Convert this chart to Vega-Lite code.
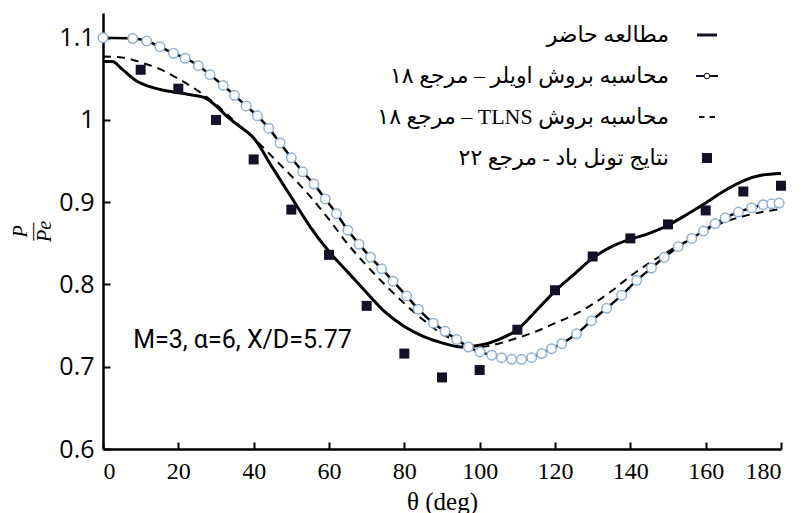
{
  "$schema": "https://vega.github.io/schema/vega-lite/v6.json",
  "width": 678,
  "height": 436,
  "autosize": {"type": "none"},
  "padding": {"left": 103, "top": 13, "right": 24, "bottom": 64},
  "background": "white",
  "config": {
    "view": {"stroke": null},
    "axis": {"grid": false, "domainColor": "black", "tickColor": "black", "domainWidth": 2.5, "tickWidth": 2, "labelColor": "black", "titleColor": "black"}
  },
  "data": {"values": [
    {"series": "مطالعه حاضر", "theta": 0, "p": 1.071},
    {"series": "مطالعه حاضر", "theta": 2.5, "p": 1.071},
    {"series": "مطالعه حاضر", "theta": 5, "p": 1.062},
    {"series": "مطالعه حاضر", "theta": 9, "p": 1.047},
    {"series": "مطالعه حاضر", "theta": 12, "p": 1.041},
    {"series": "مطالعه حاضر", "theta": 16, "p": 1.036},
    {"series": "مطالعه حاضر", "theta": 20, "p": 1.033},
    {"series": "مطالعه حاضر", "theta": 24, "p": 1.030},
    {"series": "مطالعه حاضر", "theta": 27, "p": 1.027},
    {"series": "مطالعه حاضر", "theta": 30, "p": 1.017},
    {"series": "مطالعه حاضر", "theta": 33, "p": 1.004},
    {"series": "مطالعه حاضر", "theta": 36, "p": 0.993},
    {"series": "مطالعه حاضر", "theta": 40, "p": 0.978},
    {"series": "مطالعه حاضر", "theta": 45, "p": 0.942},
    {"series": "مطالعه حاضر", "theta": 50, "p": 0.906},
    {"series": "مطالعه حاضر", "theta": 55, "p": 0.870},
    {"series": "مطالعه حاضر", "theta": 60, "p": 0.840},
    {"series": "مطالعه حاضر", "theta": 65, "p": 0.815},
    {"series": "مطالعه حاضر", "theta": 70, "p": 0.790},
    {"series": "مطالعه حاضر", "theta": 75, "p": 0.766},
    {"series": "مطالعه حاضر", "theta": 80, "p": 0.749},
    {"series": "مطالعه حاضر", "theta": 85, "p": 0.737},
    {"series": "مطالعه حاضر", "theta": 90, "p": 0.729},
    {"series": "مطالعه حاضر", "theta": 95, "p": 0.724},
    {"series": "مطالعه حاضر", "theta": 100, "p": 0.726},
    {"series": "مطالعه حاضر", "theta": 105, "p": 0.733},
    {"series": "مطالعه حاضر", "theta": 110, "p": 0.745},
    {"series": "مطالعه حاضر", "theta": 115, "p": 0.768},
    {"series": "مطالعه حاضر", "theta": 120, "p": 0.792},
    {"series": "مطالعه حاضر", "theta": 125, "p": 0.812},
    {"series": "مطالعه حاضر", "theta": 130, "p": 0.832},
    {"series": "مطالعه حاضر", "theta": 135, "p": 0.846},
    {"series": "مطالعه حاضر", "theta": 140, "p": 0.855},
    {"series": "مطالعه حاضر", "theta": 145, "p": 0.862},
    {"series": "مطالعه حاضر", "theta": 150, "p": 0.872},
    {"series": "مطالعه حاضر", "theta": 155, "p": 0.885},
    {"series": "مطالعه حاضر", "theta": 160, "p": 0.899},
    {"series": "مطالعه حاضر", "theta": 165, "p": 0.914},
    {"series": "مطالعه حاضر", "theta": 170, "p": 0.926},
    {"series": "مطالعه حاضر", "theta": 175, "p": 0.933},
    {"series": "مطالعه حاضر", "theta": 180, "p": 0.935},

    {"series": "محاسبه بروش TLNS – مرجع ۱۸", "theta": 0, "p": 1.077},
    {"series": "محاسبه بروش TLNS – مرجع ۱۸", "theta": 5, "p": 1.076},
    {"series": "محاسبه بروش TLNS – مرجع ۱۸", "theta": 10, "p": 1.070},
    {"series": "محاسبه بروش TLNS – مرجع ۱۸", "theta": 15, "p": 1.062},
    {"series": "محاسبه بروش TLNS – مرجع ۱۸", "theta": 20, "p": 1.050},
    {"series": "محاسبه بروش TLNS – مرجع ۱۸", "theta": 25, "p": 1.036},
    {"series": "محاسبه بروش TLNS – مرجع ۱۸", "theta": 30, "p": 1.019},
    {"series": "محاسبه بروش TLNS – مرجع ۱۸", "theta": 35, "p": 0.998},
    {"series": "محاسبه بروش TLNS – مرجع ۱۸", "theta": 40, "p": 0.978},
    {"series": "محاسبه بروش TLNS – مرجع ۱۸", "theta": 45, "p": 0.955},
    {"series": "محاسبه بروش TLNS – مرجع ۱۸", "theta": 50, "p": 0.932},
    {"series": "محاسبه بروش TLNS – مرجع ۱۸", "theta": 55, "p": 0.907},
    {"series": "محاسبه بروش TLNS – مرجع ۱۸", "theta": 60, "p": 0.879},
    {"series": "محاسبه بروش TLNS – مرجع ۱۸", "theta": 65, "p": 0.849},
    {"series": "محاسبه بروش TLNS – مرجع ۱۸", "theta": 70, "p": 0.823},
    {"series": "محاسبه بروش TLNS – مرجع ۱۸", "theta": 75, "p": 0.799},
    {"series": "محاسبه بروش TLNS – مرجع ۱۸", "theta": 80, "p": 0.777},
    {"series": "محاسبه بروش TLNS – مرجع ۱۸", "theta": 85, "p": 0.757},
    {"series": "محاسبه بروش TLNS – مرجع ۱۸", "theta": 90, "p": 0.740},
    {"series": "محاسبه بروش TLNS – مرجع ۱۸", "theta": 95, "p": 0.730},
    {"series": "محاسبه بروش TLNS – مرجع ۱۸", "theta": 100, "p": 0.724},
    {"series": "محاسبه بروش TLNS – مرجع ۱۸", "theta": 105, "p": 0.728},
    {"series": "محاسبه بروش TLNS – مرجع ۱۸", "theta": 110, "p": 0.735},
    {"series": "محاسبه بروش TLNS – مرجع ۱۸", "theta": 115, "p": 0.743},
    {"series": "محاسبه بروش TLNS – مرجع ۱۸", "theta": 120, "p": 0.753},
    {"series": "محاسبه بروش TLNS – مرجع ۱۸", "theta": 125, "p": 0.763},
    {"series": "محاسبه بروش TLNS – مرجع ۱۸", "theta": 130, "p": 0.776},
    {"series": "محاسبه بروش TLNS – مرجع ۱۸", "theta": 135, "p": 0.792},
    {"series": "محاسبه بروش TLNS – مرجع ۱۸", "theta": 140, "p": 0.810},
    {"series": "محاسبه بروش TLNS – مرجع ۱۸", "theta": 145, "p": 0.826},
    {"series": "محاسبه بروش TLNS – مرجع ۱۸", "theta": 150, "p": 0.840},
    {"series": "محاسبه بروش TLNS – مرجع ۱۸", "theta": 155, "p": 0.853},
    {"series": "محاسبه بروش TLNS – مرجع ۱۸", "theta": 160, "p": 0.866},
    {"series": "محاسبه بروش TLNS – مرجع ۱۸", "theta": 165, "p": 0.876},
    {"series": "محاسبه بروش TLNS – مرجع ۱۸", "theta": 170, "p": 0.883},
    {"series": "محاسبه بروش TLNS – مرجع ۱۸", "theta": 175, "p": 0.888},
    {"series": "محاسبه بروش TLNS – مرجع ۱۸", "theta": 180, "p": 0.892},

    {"series": "محاسبه بروش اویلر – مرجع ۱۸", "theta": 0, "p": 1.100},
    {"series": "محاسبه بروش اویلر – مرجع ۱۸", "theta": 7.9, "p": 1.099},
    {"series": "محاسبه بروش اویلر – مرجع ۱۸", "theta": 11.6, "p": 1.096},
    {"series": "محاسبه بروش اویلر – مرجع ۱۸", "theta": 15.1, "p": 1.089},
    {"series": "محاسبه بروش اویلر – مرجع ۱۸", "theta": 18.7, "p": 1.081},
    {"series": "محاسبه بروش اویلر – مرجع ۱۸", "theta": 21.8, "p": 1.075},
    {"series": "محاسبه بروش اویلر – مرجع ۱۸", "theta": 25.3, "p": 1.066},
    {"series": "محاسبه بروش اویلر – مرجع ۱۸", "theta": 28.4, "p": 1.055},
    {"series": "محاسبه بروش اویلر – مرجع ۱۸", "theta": 31.9, "p": 1.042},
    {"series": "محاسبه بروش اویلر – مرجع ۱۸", "theta": 34.9, "p": 1.030},
    {"series": "محاسبه بروش اویلر – مرجع ۱۸", "theta": 38, "p": 1.017},
    {"series": "محاسبه بروش اویلر – مرجع ۱۸", "theta": 41, "p": 1.005},
    {"series": "محاسبه بروش اویلر – مرجع ۱۸", "theta": 44, "p": 0.990},
    {"series": "محاسبه بروش اویلر – مرجع ۱۸", "theta": 47, "p": 0.972},
    {"series": "محاسبه بروش اویلر – مرجع ۱۸", "theta": 50, "p": 0.954},
    {"series": "محاسبه بروش اویلر – مرجع ۱۸", "theta": 53, "p": 0.937},
    {"series": "محاسبه بروش اویلر – مرجع ۱۸", "theta": 56, "p": 0.922},
    {"series": "محاسبه بروش اویلر – مرجع ۱۸", "theta": 59, "p": 0.904},
    {"series": "محاسبه بروش اویلر – مرجع ۱۸", "theta": 62, "p": 0.886},
    {"series": "محاسبه بروش اویلر – مرجع ۱۸", "theta": 65, "p": 0.866},
    {"series": "محاسبه بروش اویلر – مرجع ۱۸", "theta": 68, "p": 0.849},
    {"series": "محاسبه بروش اویلر – مرجع ۱۸", "theta": 71, "p": 0.833},
    {"series": "محاسبه بروش اویلر – مرجع ۱۸", "theta": 74, "p": 0.819},
    {"series": "محاسبه بروش اویلر – مرجع ۱۸", "theta": 77, "p": 0.804},
    {"series": "محاسبه بروش اویلر – مرجع ۱۸", "theta": 80.6, "p": 0.786},
    {"series": "محاسبه بروش اویلر – مرجع ۱۸", "theta": 83.7, "p": 0.770},
    {"series": "محاسبه بروش اویلر – مرجع ۱۸", "theta": 87.7, "p": 0.753},
    {"series": "محاسبه بروش اویلر – مرجع ۱۸", "theta": 90.8, "p": 0.743},
    {"series": "محاسبه بروش اویلر – مرجع ۱۸", "theta": 93.9, "p": 0.733},
    {"series": "محاسبه بروش اویلر – مرجع ۱۸", "theta": 97, "p": 0.724},
    {"series": "محاسبه بروش اویلر – مرجع ۱۸", "theta": 100.1, "p": 0.718},
    {"series": "محاسبه بروش اویلر – مرجع ۱۸", "theta": 103.2, "p": 0.714},
    {"series": "محاسبه بروش اویلر – مرجع ۱۸", "theta": 105.8, "p": 0.711},
    {"series": "محاسبه بروش اویلر – مرجع ۱۸", "theta": 108.5, "p": 0.709},
    {"series": "محاسبه بروش اویلر – مرجع ۱۸", "theta": 111.1, "p": 0.709},
    {"series": "محاسبه بروش اویلر – مرجع ۱۸", "theta": 113.8, "p": 0.711},
    {"series": "محاسبه بروش اویلر – مرجع ۱۸", "theta": 116.5, "p": 0.716},
    {"series": "محاسبه بروش اویلر – مرجع ۱۸", "theta": 119.1, "p": 0.722},
    {"series": "محاسبه بروش اویلر – مرجع ۱۸", "theta": 121.8, "p": 0.728},
    {"series": "محاسبه بروش اویلر – مرجع ۱۸", "theta": 125.7, "p": 0.740},
    {"series": "محاسبه بروش اویلر – مرجع ۱۸", "theta": 129.7, "p": 0.756},
    {"series": "محاسبه بروش اویلر – مرجع ۱۸", "theta": 133.7, "p": 0.771},
    {"series": "محاسبه بروش اویلر – مرجع ۱۸", "theta": 137.7, "p": 0.787},
    {"series": "محاسبه بروش اویلر – مرجع ۱۸", "theta": 141.7, "p": 0.805},
    {"series": "محاسبه بروش اویلر – مرجع ۱۸", "theta": 145.6, "p": 0.820},
    {"series": "محاسبه بروش اویلر – مرجع ۱۸", "theta": 149, "p": 0.833},
    {"series": "محاسبه بروش اویلر – مرجع ۱۸", "theta": 152.7, "p": 0.846},
    {"series": "محاسبه بروش اویلر – مرجع ۱۸", "theta": 156.3, "p": 0.856},
    {"series": "محاسبه بروش اویلر – مرجع ۱۸", "theta": 159.4, "p": 0.865},
    {"series": "محاسبه بروش اویلر – مرجع ۱۸", "theta": 162.5, "p": 0.874},
    {"series": "محاسبه بروش اویلر – مرجع ۱۸", "theta": 165.2, "p": 0.881},
    {"series": "محاسبه بروش اویلر – مرجع ۱۸", "theta": 168.7, "p": 0.888},
    {"series": "محاسبه بروش اویلر – مرجع ۱۸", "theta": 172.2, "p": 0.893},
    {"series": "محاسبه بروش اویلر – مرجع ۱۸", "theta": 175.3, "p": 0.897},
    {"series": "محاسبه بروش اویلر – مرجع ۱۸", "theta": 177.5, "p": 0.898},
    {"series": "محاسبه بروش اویلر – مرجع ۱۸", "theta": 179.5, "p": 0.899},

    {"series": "نتایج تونل باد - مرجع ۲۲", "theta": 10, "p": 1.061},
    {"series": "نتایج تونل باد - مرجع ۲۲", "theta": 20, "p": 1.038},
    {"series": "نتایج تونل باد - مرجع ۲۲", "theta": 30, "p": 1.000},
    {"series": "نتایج تونل باد - مرجع ۲۲", "theta": 40, "p": 0.952},
    {"series": "نتایج تونل باد - مرجع ۲۲", "theta": 50, "p": 0.891},
    {"series": "نتایج تونل باد - مرجع ۲۲", "theta": 60, "p": 0.836},
    {"series": "نتایج تونل باد - مرجع ۲۲", "theta": 70, "p": 0.774},
    {"series": "نتایج تونل باد - مرجع ۲۲", "theta": 80, "p": 0.716},
    {"series": "نتایج تونل باد - مرجع ۲۲", "theta": 90, "p": 0.687},
    {"series": "نتایج تونل باد - مرجع ۲۲", "theta": 100, "p": 0.696},
    {"series": "نتایج تونل باد - مرجع ۲۲", "theta": 110, "p": 0.745},
    {"series": "نتایج تونل باد - مرجع ۲۲", "theta": 120, "p": 0.793},
    {"series": "نتایج تونل باد - مرجع ۲۲", "theta": 130, "p": 0.834},
    {"series": "نتایج تونل باد - مرجع ۲۲", "theta": 140, "p": 0.856},
    {"series": "نتایج تونل باد - مرجع ۲۲", "theta": 150, "p": 0.873},
    {"series": "نتایج تونل باد - مرجع ۲۲", "theta": 160, "p": 0.890},
    {"series": "نتایج تونل باد - مرجع ۲۲", "theta": 170, "p": 0.913},
    {"series": "نتایج تونل باد - مرجع ۲۲", "theta": 180, "p": 0.920}
  ]},
  "encoding": {
    "x": {
      "field": "theta", "type": "quantitative",
      "scale": {"domain": [0, 180], "nice": false},
      "axis": {
        "values": [0, 20, 40, 60, 80, 100, 120, 140, 160, 180],
        "title": "θ (deg)",
        "titleFont": "Liberation Serif", "titleFontSize": 25, "titleFontWeight": "normal", "titlePadding": 6,
        "labelFont": "Liberation Serif", "labelFontSize": 24, "labelPadding": 17,
        "tickSize": -7
      }
    },
    "y": {
      "field": "p", "type": "quantitative",
      "scale": {"domain": [0.6, 1.13], "nice": false, "zero": false},
      "axis": {
        "values": [0.6, 0.7, 0.8, 0.9, 1, 1.1],
        "format": "~g",
        "title": ["P", "—", "Pe"],
        "titleFont": "Liberation Serif", "titleFontStyle": "italic", "titleFontSize": 20, "titleFontWeight": "normal", "titleLineHeight": 12,
        "labelFont": "Open Sans", "labelFontSize": 25, "labelPadding": 16,
        "tickSize": -7
      }
    }
  },
  "layer": [
    {
      "transform": [{"filter": {"field": "series", "equal": "محاسبه بروش TLNS – مرجع ۱۸"}}],
      "mark": {"type": "line", "color": "black", "strokeWidth": 2, "strokeDash": [8, 6], "interpolate": "monotone"}
    },
    {
      "transform": [{"filter": {"field": "series", "equal": "مطالعه حاضر"}}],
      "mark": {"type": "line", "color": "black", "strokeWidth": 3, "interpolate": "monotone"}
    },
    {
      "transform": [{"filter": {"field": "series", "equal": "محاسبه بروش اویلر – مرجع ۱۸"}}],
      "mark": {"type": "line", "color": "black", "strokeWidth": 2.5, "interpolate": "monotone"}
    },
    {
      "transform": [{"filter": {"field": "series", "equal": "محاسبه بروش اویلر – مرجع ۱۸"}}],
      "mark": {"type": "point", "shape": "circle", "filled": true, "fill": "white", "stroke": "#8fb0d4", "strokeWidth": 1.5, "size": 90, "opacity": 1}
    },
    {
      "transform": [{"filter": {"field": "series", "equal": "نتایج تونل باد - مرجع ۲۲"}}],
      "mark": {"type": "point", "filled": true, "color": "#141028", "size": 100, "opacity": 1},
      "encoding": {
        "shape": {
          "field": "series", "type": "nominal",
          "scale": {
            "domain": ["مطالعه حاضر", "محاسبه بروش اویلر – مرجع ۱۸", "محاسبه بروش TLNS – مرجع ۱۸", "نتایج تونل باد - مرجع ۲۲"],
            "range": [
              "M-2,-0.3H2V0.3H-2Z",
              "M-2.2,-0.2H-0.62V0.2H-2.2Z M0.62,-0.2H2.2V0.2H0.62Z M0.65,0A0.65,0.65,0,1,0,-0.65,0A0.65,0.65,0,1,0,0.65,0Z M0.45,0A0.45,0.45,0,1,1,-0.45,0A0.45,0.45,0,1,1,0.45,0Z",
              "M-1.6,-0.2H-0.5V0.2H-1.6Z M0.5,-0.2H1.6V0.2H0.5Z",
              "square"
            ]
          },
          "legend": {
            "orient": "none", "legendX": 593, "legendY": 11,
            "title": null, "padding": 0,
            "labelAlign": "right", "labelOffset": -49, "labelLimit": 600,
            "labelFont": "Liberation Serif, DejaVu Sans", "labelFontSize": 22, "labelColor": "black",
            "labelExpr": "'\u202B' + datum.label + '\u202C'",
            "rowPadding": 19, "symbolSize": 100, "symbolOpacity": 1, "symbolStrokeWidth": 0
          }
        }
      }
    },
    {
      "transform": [{"filter": "datum.series === 'مطالعه حاضر' && datum.theta === 0"}],
      "mark": {"type": "text", "text": "M=3, α=6, X/D=5.77", "font": "Roboto", "fontSize": 25, "align": "left", "baseline": "middle", "color": "black"},
      "encoding": {
        "x": {"datum": 8, "type": "quantitative"},
        "y": {"datum": 0.733, "type": "quantitative"}
      }
    }
  ]
}
